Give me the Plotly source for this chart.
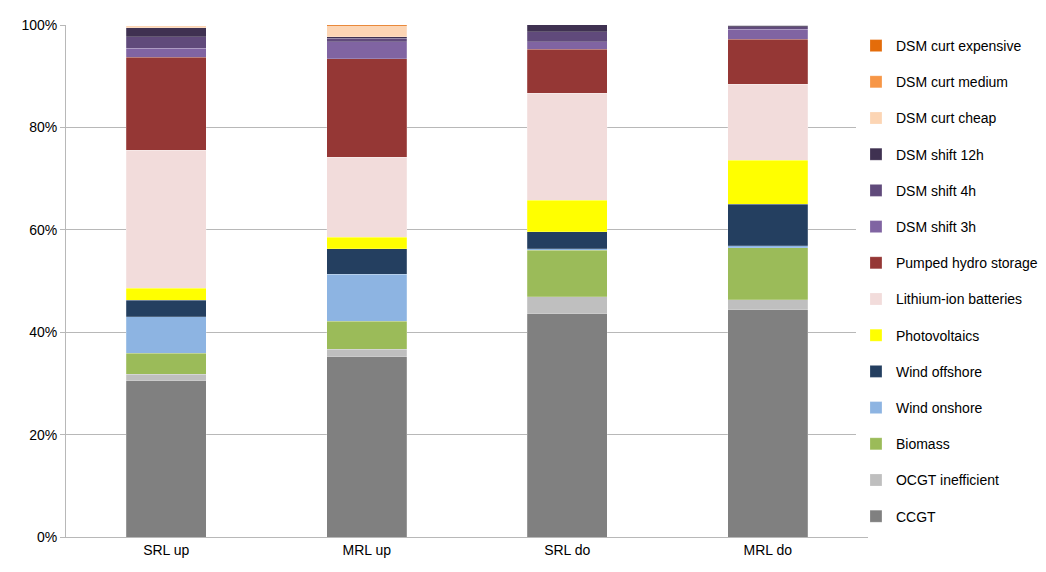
import plotly.graph_objects as go

categories = ["SRL up", "MRL up", "SRL do", "MRL do"]

series_names = ["CCGT", "OCGT inefficient", "Biomass", "Wind onshore", "Wind offshore",
                "Photovoltaics", "Lithium-ion batteries", "Pumped hydro storage",
                "DSM shift 3h", "DSM shift 4h", "DSM shift 12h", "DSM curt cheap",
                "DSM curt medium", "DSM curt expensive"]

ccgt = [30.5, 35.2, 43.6, 44.4]
ocgt = [1.3, 1.5, 3.3, 1.9]
biomass = [4.1, 5.4, 9.1, 10.2]
wind_on = [7.1, 9.2, 0.3, 0.4]
wind_off = [3.2, 5.0, 3.3, 8.1]
pv = [2.4, 2.2, 6.2, 8.6]
li_ion = [26.9, 15.7, 20.9, 14.8]
phs = [18.2, 19.2, 8.6, 8.8]
shift3 = [1.8, 3.3, 1.4, 2.0]
shift4 = [2.2, 0.7, 2.0, 0.5]
shift12 = [1.8, 0.3, 1.4, 0.3]
curt_cheap = [0.4, 2.2, 0.0, 0.0]
curt_medium = [0.0, 0.0, 0.0, 0.0]
curt_exp = [0.0, 0.2, 0.0, 0.0]

values = [ccgt, ocgt, biomass, wind_on, wind_off, pv, li_ion, phs,
          shift3, shift4, shift12, curt_cheap, curt_medium, curt_exp]

colors = ["#808080", "#BFBFBF", "#9BBB59", "#8DB4E2", "#243F60", "#FFFF00",
          "#F2DCDB", "#953735", "#8064A2", "#604A7B", "#3F3151", "#FCD5B4",
          "#F79646", "#E46C0A"]

fig = go.Figure()
for i, (name, vals, col) in enumerate(zip(series_names, values, colors)):
    fig.add_trace(go.Bar(
        x=categories, y=vals, name=name, legendgroup=name,
        legendrank=1000 - i,
        marker=dict(color=col, line=dict(color="rgba(255,255,255,0.4)", width=0.5))
    ))

fig.update_layout(
    barmode="stack",
    bargap=0.6,
    width=1046, height=572,
    plot_bgcolor="white", paper_bgcolor="white",
    font=dict(family="Liberation Sans, Arial", size=14, color="black"),
    margin=dict(l=58, r=186, t=9, b=43),
    showlegend=True,
    legend=dict(traceorder="grouped", tracegroupgap=15, x=0.985, xanchor="left",
                y=0.5, yanchor="middle", font=dict(size=14), itemwidth=30),
    yaxis=dict(range=[0, 100], dtick=20, ticksuffix="%", showgrid=True,
               gridcolor="#B8B8B8", gridwidth=1, zeroline=False,
               showline=True, linecolor="#B8B8B8", ticks="outside", ticklen=5,
               tickcolor="#B8B8B8"),
    xaxis=dict(showline=True, linecolor="#B8B8B8", ticks="", tickfont=dict(size=14)),
)

fig.write_html("out.html")
